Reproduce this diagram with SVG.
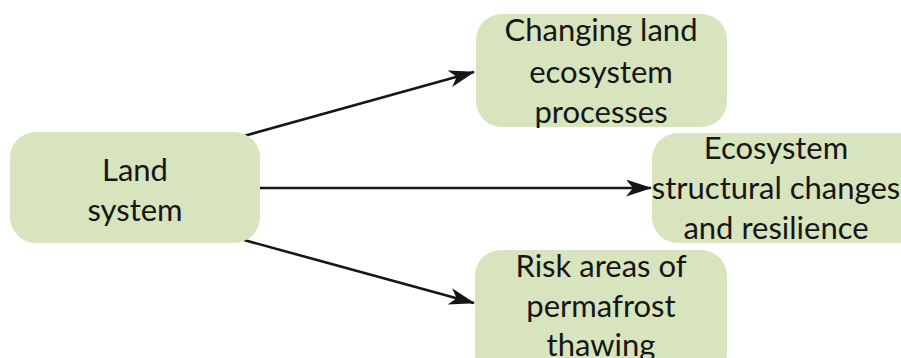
<svg xmlns="http://www.w3.org/2000/svg" width="901" height="358" viewBox="0 0 901 358">
  <defs>
    <style>
      .box { fill: #d7e4bd; }
      .lbl { font-family: Lato, "Open Sans", "Liberation Sans", sans-serif; font-size: 31px; fill: #161616; text-anchor: middle; }
      .edge { stroke: #161616; stroke-width: 2.6; fill: none; marker-end: url(#head); }
    </style>
    <marker id="head" viewBox="0 0 26 17" refX="25" refY="8.5" markerWidth="26" markerHeight="17" markerUnits="userSpaceOnUse" orient="auto">
      <path d="M0,0 L26,8.5 L0,17 L7,8.5 Z" fill="#161616"/>
    </marker>
  </defs>
  <rect width="901" height="358" fill="#ffffff"/>

  <g id="connectors">
    <line class="edge" x1="244" y1="136" x2="474" y2="72"/>
    <line class="edge" x1="260" y1="188" x2="651" y2="188"/>
    <line class="edge" x1="244" y1="240" x2="474" y2="303"/>
  </g>

  <g id="land-system">
    <rect class="box" x="10" y="132" width="250" height="111" rx="26"/>
    <text class="lbl" x="135" y="181">Land</text>
    <text class="lbl" x="135" y="221">system</text>
  </g>

  <g id="land-processes">
    <rect class="box" x="476" y="14" width="251" height="113" rx="26"/>
    <text class="lbl" x="601" y="41">Changing land</text>
    <text class="lbl" x="601" y="83">ecosystem</text>
    <text class="lbl" x="601" y="123">processes</text>
  </g>

  <g id="structural-changes">
    <rect class="box" x="652" y="133" width="275" height="110" rx="26"/>
    <text class="lbl" x="776" y="159">Ecosystem</text>
    <text class="lbl" x="776" y="199">structural changes</text>
    <text class="lbl" x="776" y="239">and resilience</text>
  </g>

  <g id="permafrost">
    <rect class="box" x="475" y="250" width="252" height="130" rx="26"/>
    <text class="lbl" x="601" y="277">Risk areas of</text>
    <text class="lbl" x="601" y="317">permafrost</text>
    <text class="lbl" x="601" y="356">thawing</text>
  </g>
</svg>
